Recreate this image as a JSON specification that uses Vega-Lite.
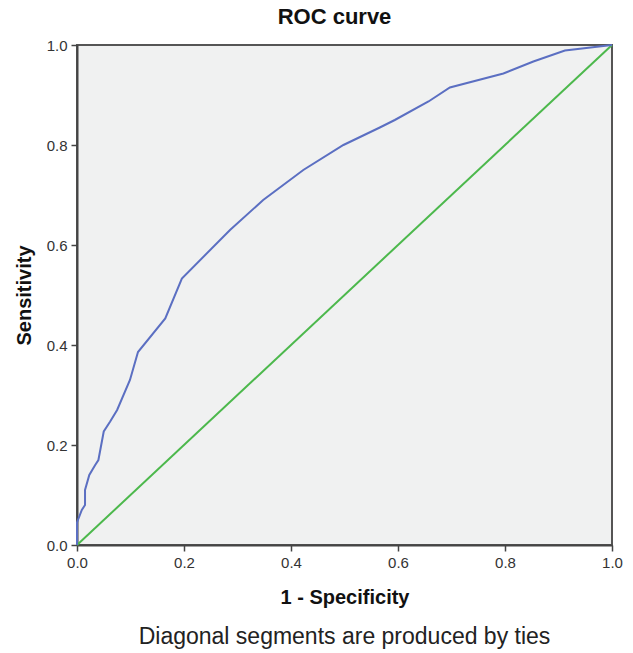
{
  "$schema": "https://vega.github.io/schema/vega-lite/v6.json",
  "autosize": "none",
  "width": 535,
  "height": 500,
  "padding": {"left": 77, "top": 45, "right": 21, "bottom": 108},
  "background": "white",
  "title": {
    "text": "ROC curve",
    "font": "Liberation Sans, Arial",
    "fontSize": 22,
    "fontWeight": "bold",
    "color": "#111",
    "anchor": "middle",
    "frame": "group",
    "dx": -10,
    "offset": 9
  },
  "config": {
    "view": {"fill": "#f0f1f1", "stroke": "#555", "strokeWidth": 2},
    "axis": {
      "grid": false,
      "labelFlush": false,
      "labelOverlap": false,
      "domainColor": "#444",
      "domainWidth": 2,
      "tickColor": "#444",
      "tickWidth": 1.5,
      "tickSize": 6,
      "labelFont": "Liberation Sans, Arial",
      "labelFontSize": 15,
      "labelColor": "#333",
      "titleFont": "Liberation Sans, Arial",
      "titleFontSize": 20,
      "titleFontWeight": "bold",
      "titleColor": "#111"
    }
  },
  "layer": [
    {
      "data": {"values": [{"fpr": 0, "tpr": 0}, {"fpr": 1, "tpr": 1}]},
      "mark": {"type": "line", "color": "#4cb84c", "strokeWidth": 2},
      "encoding": {
        "x": {
          "field": "fpr", "type": "quantitative",
          "scale": {"domain": [0, 1], "nice": false},
          "axis": {"title": "1 - Specificity", "values": [0, 0.2, 0.4, 0.6, 0.8, 1], "format": ".1f", "labelPadding": 4, "titlePadding": 17}
        },
        "y": {
          "field": "tpr", "type": "quantitative",
          "scale": {"domain": [0, 1], "nice": false},
          "axis": {"title": "Sensitivity", "values": [0, 0.2, 0.4, 0.6, 0.8, 1], "format": ".1f", "labelPadding": 4, "titlePadding": 12}
        }
      }
    },
    {
      "data": {"values": [
        {"fpr": 0, "tpr": 0},
        {"fpr": 0, "tpr": 0.045},
        {"fpr": 0.009, "tpr": 0.07},
        {"fpr": 0.015, "tpr": 0.08},
        {"fpr": 0.015, "tpr": 0.11},
        {"fpr": 0.023, "tpr": 0.14},
        {"fpr": 0.034, "tpr": 0.16},
        {"fpr": 0.04, "tpr": 0.17},
        {"fpr": 0.05, "tpr": 0.227},
        {"fpr": 0.062, "tpr": 0.247},
        {"fpr": 0.075, "tpr": 0.27},
        {"fpr": 0.099, "tpr": 0.33},
        {"fpr": 0.114, "tpr": 0.386},
        {"fpr": 0.165, "tpr": 0.453},
        {"fpr": 0.196, "tpr": 0.533},
        {"fpr": 0.286, "tpr": 0.63},
        {"fpr": 0.348, "tpr": 0.69},
        {"fpr": 0.423, "tpr": 0.75},
        {"fpr": 0.498, "tpr": 0.8},
        {"fpr": 0.566, "tpr": 0.835},
        {"fpr": 0.594, "tpr": 0.85},
        {"fpr": 0.657, "tpr": 0.887},
        {"fpr": 0.697, "tpr": 0.915},
        {"fpr": 0.797, "tpr": 0.943},
        {"fpr": 0.853, "tpr": 0.967},
        {"fpr": 0.912, "tpr": 0.989},
        {"fpr": 1, "tpr": 1}
      ]},
      "mark": {"type": "line", "color": "#5b6fc2", "strokeWidth": 2},
      "encoding": {
        "x": {"field": "fpr", "type": "quantitative"},
        "y": {"field": "tpr", "type": "quantitative"},
        "order": {"field": "tpr", "type": "quantitative"}
      }
    },
    {
      "data": {"values": [{"note": "Diagonal segments are produced by ties"}]},
      "mark": {"type": "text", "font": "Liberation Sans, Arial", "fontSize": 23, "color": "#222", "baseline": "middle", "align": "center"},
      "encoding": {
        "text": {"field": "note"},
        "x": {"datum": 0.5},
        "y": {"datum": -0.183}
      }
    }
  ]
}
